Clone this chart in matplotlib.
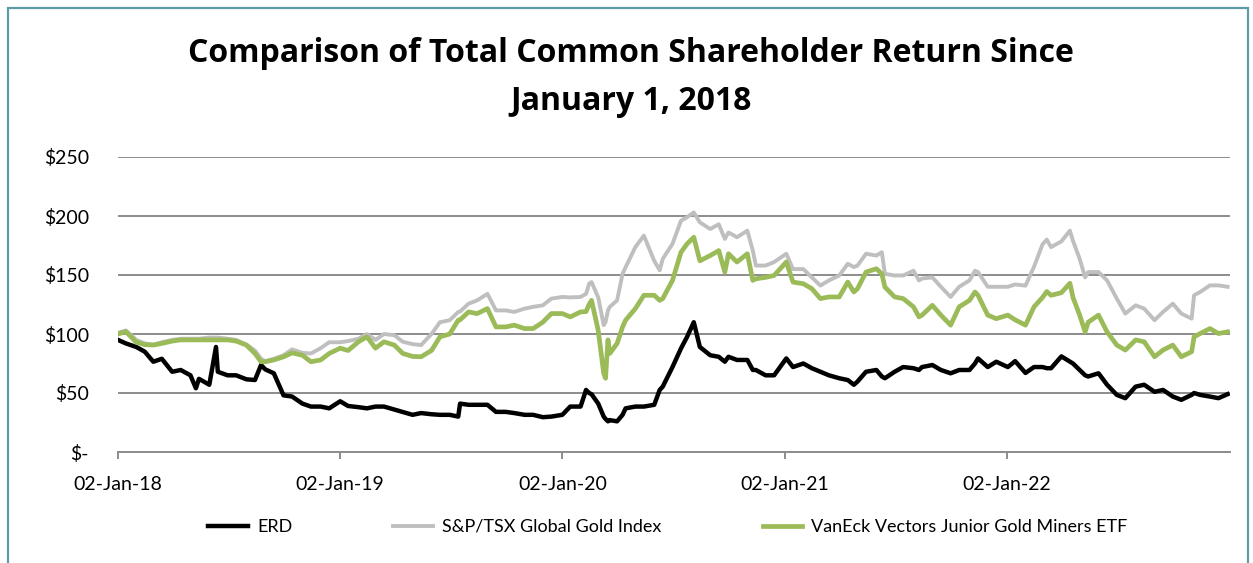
import matplotlib
matplotlib.use("Agg")
import matplotlib.pyplot as plt
import matplotlib.dates as mdates
import pandas as pd
from matplotlib.patches import Rectangle

# values (indexed to $100 on 02-Jan-18)
dates = [
    "2018-01-02", "2018-01-15", "2018-02-01", "2018-02-15", "2018-03-01", "2018-03-15",
    "2018-04-01", "2018-04-15", "2018-05-01", "2018-05-10", "2018-05-15", "2018-06-01",
    "2018-06-12", "2018-06-15", "2018-07-01", "2018-07-15", "2018-08-01", "2018-08-15",
    "2018-08-25", "2018-09-01", "2018-09-15", "2018-10-01", "2018-10-15", "2018-11-01",
    "2018-11-15", "2018-12-01", "2018-12-15",
    "2019-01-02", "2019-01-15", "2019-02-01", "2019-02-15", "2019-03-01", "2019-03-15",
    "2019-04-01", "2019-04-15", "2019-05-01", "2019-05-15", "2019-06-01", "2019-06-15",
    "2019-07-01", "2019-07-15", "2019-07-18", "2019-08-01", "2019-08-15", "2019-09-01",
    "2019-09-15", "2019-10-01", "2019-10-15", "2019-11-01", "2019-11-15", "2019-12-01",
    "2019-12-15",
    "2020-01-02", "2020-01-15", "2020-02-01", "2020-02-10", "2020-02-15", "2020-02-19",
    "2020-03-01", "2020-03-10", "2020-03-13", "2020-03-17", "2020-03-20", "2020-04-01",
    "2020-04-10", "2020-04-15", "2020-05-01", "2020-05-15", "2020-06-01", "2020-06-10",
    "2020-06-15", "2020-07-01", "2020-07-15", "2020-07-25", "2020-08-05", "2020-08-15",
    "2020-09-01", "2020-09-15", "2020-09-25", "2020-10-01", "2020-10-15", "2020-11-01",
    "2020-11-10", "2020-11-15", "2020-12-01", "2020-12-15",
    "2021-01-04", "2021-01-15", "2021-02-01", "2021-02-15", "2021-03-01", "2021-03-15",
    "2021-04-01", "2021-04-15", "2021-04-25", "2021-05-01", "2021-05-15", "2021-06-01",
    "2021-06-10", "2021-06-15", "2021-07-01", "2021-07-15", "2021-08-01", "2021-08-10",
    "2021-08-15", "2021-09-01", "2021-09-15", "2021-10-01", "2021-10-15", "2021-11-01",
    "2021-11-10", "2021-11-15", "2021-12-01", "2021-12-15",
    "2022-01-03", "2022-01-15", "2022-02-01", "2022-02-15", "2022-03-01", "2022-03-08",
    "2022-03-15", "2022-04-01", "2022-04-15", "2022-04-20", "2022-05-01", "2022-05-10",
    "2022-05-15", "2022-06-01", "2022-06-15", "2022-07-01", "2022-07-15", "2022-08-01",
    "2022-08-15", "2022-09-01", "2022-09-15", "2022-10-01", "2022-10-15", "2022-11-01",
    "2022-11-05", "2022-11-15", "2022-12-01", "2022-12-15", "2022-12-30",
]

erd = [
    95, 92, 89, 85, 76.5, 79, 68, 69.5, 65, 54, 62, 57, 89, 68, 65, 65, 61.6, 61,
    73.7, 70, 66.7, 48, 47, 41, 38.5, 38.5, 37,
    43, 39, 38, 37, 38.5, 38.5, 36, 34, 31.5, 33, 32, 31.5, 31.5, 30, 41, 40, 40, 40,
    34, 34, 33, 31.5, 31.5, 29.5, 30,
    31.5, 38.5, 38.5, 52.6, 50, 49, 41, 30, 28, 26, 27, 26, 31.5, 37, 38.5, 38.5, 40,
    52.6, 55.4, 72, 87.8, 97.6, 110, 89, 82, 80.7, 76.5, 80.7, 78, 78, 69.5, 69.5, 65, 65,
    79.3, 72, 75, 71, 68, 65, 62.5, 61, 57, 59.7, 68, 69.5, 64, 62.5, 68, 72, 71, 69.5,
    72, 73.7, 69.5, 66.7, 69.5, 69.5, 75, 79.3, 72, 76.5,
    72, 77, 67, 72, 72, 71, 71, 81, 76.5, 75, 69.5, 65, 64, 66.7, 57, 48.4, 45.6, 55.4,
    57, 51, 52.6, 47, 44.2, 48.4, 50, 48.4, 47, 45.6, 49,
]

tsx_gold = [
    101, 103, 95, 92, 91, 93, 95, 96, 96, 96, 96, 97, 97, 97, 96, 95, 91, 86,
    79, 77, 79, 82, 87, 84, 83.5, 88, 93,
    93, 94, 96, 100, 95, 100, 99, 93.4, 91.4, 90.6, 100, 110, 111.7, 118.7, 119, 125.7,
    128.5, 134, 120, 120, 118.7, 121.5, 123, 124.3, 130,
    131.4, 131, 131.4, 134, 142.6, 144, 131, 107.5, 110, 120, 123, 128.5, 151, 156.7,
    173.6, 183.4, 162, 154, 163.7, 176.4, 196, 199, 203, 194.6, 189, 193, 180.6, 186,
    182, 187.6, 170.7, 158, 158, 161,
    168, 155, 155, 148, 141, 145.4, 149.6, 159.5, 156.7, 158, 168, 166.5, 169.3, 151,
    149.6, 149.6, 153.6, 145.4, 147, 148, 140, 131.4, 140, 145.4, 153.6, 152.5, 140, 140,
    140, 142, 141, 157, 176, 180, 173.6, 178.5, 187.6, 179, 163.7, 148, 152.5, 152.5,
    145.4, 130, 117.3, 124.3, 121.5, 111.7, 118.7, 125.7, 117.3, 113, 132.8, 135.6,
    141.2, 141.2, 140,
]

junior_miners = [
    100, 102, 93, 91, 90.6, 92, 94, 95, 95, 95, 95, 95, 95, 95, 95, 94, 90.6, 83.5,
    76.5, 76.5, 78, 80.7, 84, 82, 76.5, 78, 83.5,
    88, 86, 93.4, 97.6, 88, 93.4, 90.6, 83.5, 81, 80.7, 86, 97.6, 100, 111.7, 112,
    118.7, 117.3, 121.5, 106, 106, 107.5, 104.6, 104.6, 110, 117.3,
    117.3, 114.5, 118.7, 119, 125, 128.5, 103, 66.7, 62.5, 95, 83.5, 92, 106, 111.7,
    121.5, 132.8, 132.8, 128.5, 130, 145.4, 169.3, 176.4, 182, 162, 166.5, 170.7, 152.5,
    168, 161, 168, 145.4, 146.8, 148, 149.6,
    161, 144, 142.6, 138.4, 130, 131.4, 131.4, 144, 135.6, 138.4, 152.5, 155.3, 151,
    139.8, 131.4, 130, 123, 114.5, 116, 124.3, 116, 107.5, 123, 128.5, 135.6, 132.8, 116,
    113,
    116, 112, 107.5, 123, 131, 136, 132.8, 135, 143, 131, 116, 101.8, 110, 116, 101.8,
    90.6, 86.4, 95, 93.4, 80.7, 86.4, 90.6, 80.7, 85, 97.6, 100.4, 104.6, 100.4, 101.8,
]

series_names = ["ERD", "S&P/TSX Global Gold Index", "VanEck Vectors Junior Gold Miners ETF"]
y_ticks = [0, 50, 100, 150, 200, 250]
y_labels = ["$-", "$50", "$100", "$150", "$200", "$250"]
x_ticks = ["2018-01-02", "2019-01-02", "2020-01-02", "2021-01-02", "2022-01-02"]

plt.rcParams['font.family'] = ['Lato', 'DejaVu Sans']

d = pd.to_datetime(dates)

fig = plt.figure(figsize=(12.53, 5.63), dpi=100)
ax = fig.add_axes([118/1253, 1 - 452/563, 1112/1253, 295/563])

# outer frame of the chart object
fig.patches.append(Rectangle((8/1253, -0.02), 1240/1253, 1 - 8/563 + 0.02,
                             transform=fig.transFigure, fill=False,
                             edgecolor='#5E9CA4', linewidth=1.6))

ax.plot(d, erd, color='black', lw=3.2, label=series_names[0], zorder=3)
ax.plot(d, tsx_gold, color='#BFBFBF', lw=2.8, label=series_names[1], zorder=3)
ax.plot(d, junior_miners, color='#9BBB59', lw=3.4, label=series_names[2], zorder=3)

ax.set_ylim(0, 250)
ax.set_xlim(pd.Timestamp("2018-01-02"), pd.Timestamp("2023-01-03"))
ax.set_yticks(y_ticks)
ax.set_yticklabels(y_labels)
ax.yaxis.grid(True, color='#8C8C8C', linewidth=1.4)
ax.set_axisbelow(True)

ax.set_xticks(pd.to_datetime(x_ticks))
ax.xaxis.set_major_formatter(mdates.DateFormatter('%d-%b-%y'))

for s in ['top', 'right', 'left']:
    ax.spines[s].set_visible(False)
ax.spines['bottom'].set_color('#8C8C8C')
ax.spines['bottom'].set_linewidth(1.4)

ax.tick_params(axis='y', length=0, pad=21, labelsize=14)
ax.tick_params(axis='x', length=5, width=1.4, color='#8C8C8C', pad=12, labelsize=14)

title_font = dict(ha='center', va='center', fontsize=23, fontweight='bold',
                  family=['Open Sans', 'DejaVu Sans'])
fig.text(0.5035, 1 - 54/563, "Comparison of Total Common Shareholder Return Since", **title_font)
fig.text(0.5035, 1 - 102/563, "January 1, 2018", **title_font)

fig.legend(loc='center', bbox_to_anchor=(668/1253, 1 - 527/563), ncol=3,
           frameon=False, fontsize=13, handlelength=2.2, columnspacing=5.6,
           handletextpad=0.5)

fig.savefig("out.png", dpi=100)
